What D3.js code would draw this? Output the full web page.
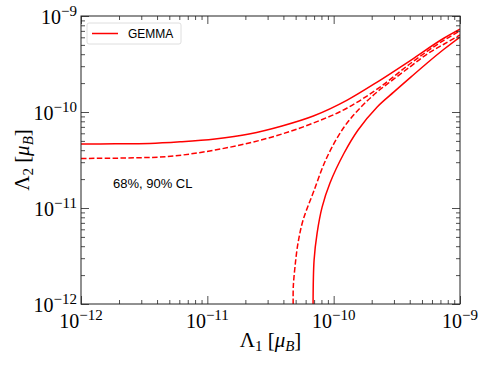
<!DOCTYPE html>
<html>
<head>
<meta charset="utf-8">
<script src="https://cdn.jsdelivr.net/npm/d3@7"></script>
<style>
  body { margin: 0; background: #fff; }
  text { font-family: "Liberation Serif", "DejaVu Serif", serif; fill: #000; }
</style>
</head>
<body>
<svg id="chart" width="488" height="366"></svg>
<script>
// axis ranges (log)
const xDomain = [1e-12, 1e-9];
const yDomain = [1e-12, 1e-9];
const decades = [1e-12, 1e-11, 1e-10, 1e-9];
const decadeLabels = ["\u221212", "\u221211", "\u221210", "\u22129"];

// 90% CL (solid), upper branch
const upper90x = [1e-12, 1.86e-12, 3.5e-12, 6.3e-12, 1.15e-11, 2.14e-11, 3.9e-11, 6.9e-11, 1.28e-10, 2.21e-10, 4.1e-10, 7.5e-10, 1e-9];
const upper90y = [4.64e-11, 4.66e-11, 4.7e-11, 4.9e-11, 5.24e-11, 5.9e-11, 7.15e-11, 9.08e-11, 1.33e-10, 2.05e-10, 3.48e-10, 5.9e-10, 7.3e-10];
// 68% CL (dashed), upper branch
const upper68x = [1e-12, 3.5e-12, 6.3e-12, 1.15e-11, 2.14e-11, 3.9e-11, 6.9e-11, 1.28e-10, 2.33e-10, 4.1e-10, 7.5e-10, 1e-9];
const upper68y = [3.28e-11, 3.36e-11, 3.56e-11, 4.02e-11, 4.75e-11, 5.9e-11, 7.67e-11, 1.10e-10, 1.82e-10, 3.24e-10, 5.62e-10, 6.98e-10];
// 90% CL (solid), lower branch
const lower90x = [6.87e-11, 7.0e-11, 7.4e-11, 8.1e-11, 9.35e-11, 1.21e-10, 1.56e-10, 2.21e-10, 3.0e-10, 4.1e-10, 5.5e-10, 7.5e-10, 1e-9];
const lower90y = [1e-12, 2.87e-12, 5.5e-12, 1.02e-11, 1.82e-11, 3.74e-11, 6.5e-11, 1.13e-10, 1.62e-10, 2.32e-10, 3.24e-10, 4.53e-10, 6.04e-10];
// 68% CL (dashed), lower branch
const lower68x = [4.78e-11, 4.79e-11, 4.94e-11, 5.22e-11, 5.73e-11, 6.87e-11, 8.87e-11, 1.21e-10, 1.65e-10, 2.21e-10, 3.0e-10, 4.1e-10, 5.5e-10, 7.5e-10, 1e-9];
const lower68y = [1e-12, 1.5e-12, 2.43e-12, 4.3e-12, 7.5e-12, 1.43e-11, 3.4e-11, 6.98e-11, 1.13e-10, 1.62e-10, 2.21e-10, 3.01e-10, 4.02e-10, 5.11e-10, 6.34e-10];

const svg = d3.select("#chart");
const pl = 81, pr = 460, pt = 16, pb = 304;

const x = d3.scaleLog().domain(xDomain).range([pl, pr]);
const y = d3.scaleLog().domain(yDomain).range([pb, pt]);

const isMajor = d => Math.abs(Math.log10(d) - Math.round(Math.log10(d))) < 1e-6;
const minorX = x.ticks().filter(d => !isMajor(d));
const minorY = y.ticks().filter(d => !isMajor(d));

svg.append("clipPath").attr("id", "clip")
  .append("rect").attr("x", pl).attr("y", pt)
  .attr("width", pr - pl).attr("height", pb - pt);

// curves
const smoothX = d3.line().x(d => x(d[0])).y(d => y(d[1])).curve(d3.curveMonotoneX);
const smooth = d3.line().x(d => x(d[0])).y(d => y(d[1])).curve(d3.curveCatmullRom.alpha(0.5));
const curves = [
  [upper90x, upper90y, null, smoothX],
  [lower90x, lower90y, null, smooth],
  [upper68x, upper68y, "5.5,2.4", smoothX],
  [lower68x, lower68y, "5.5,2.4", smooth]
];
const plot = svg.append("g").attr("clip-path", "url(#clip)");
curves.forEach(([xs, ys, dash, gen]) => {
  plot.append("path")
    .datum(xs.map((v, i) => [v, ys[i]]))
    .attr("d", gen)
    .attr("fill", "none")
    .attr("stroke", "#ff0000")
    .attr("stroke-width", 1.5)
    .attr("stroke-dasharray", dash);
});

// ticks, inward on all four sides
const addAxis = (axis, tx, ty) => {
  const g = svg.append("g").attr("transform", `translate(${tx},${ty})`).call(axis);
  g.select(".domain").remove();
  g.selectAll("line").attr("stroke", "#222").attr("stroke-width", 0.8);
  g.selectAll("text").remove();
};
const sides = [
  [() => d3.axisBottom(x), 0, pb, minorX],
  [() => d3.axisTop(x), 0, pt, minorX],
  [() => d3.axisLeft(y), pl, 0, minorY],
  [() => d3.axisRight(y), pr, 0, minorY]
];
sides.forEach(([mk, tx, ty, minor]) => {
  addAxis(mk().tickValues(decades).tickSize(-8).tickFormat(""), tx, ty);
  addAxis(mk().tickValues(minor).tickSize(-4).tickFormat(""), tx, ty);
});

// frame
svg.append("rect")
  .attr("x", pl).attr("y", pt)
  .attr("width", pr - pl).attr("height", pb - pt)
  .attr("fill", "none").attr("stroke", "#222").attr("stroke-width", 1);

// tick labels
decades.forEach((d, i) => {
  const t = svg.append("text")
    .attr("x", x(d)).attr("y", 328)
    .attr("text-anchor", "middle")
    .attr("font-size", 20);
  t.append("tspan").text("10");
  t.append("tspan").attr("dy", -8).attr("font-size", 15).text(decadeLabels[i]);

  const u = svg.append("text")
    .attr("x", pl - 4).attr("y", y(d) + 8)
    .attr("text-anchor", "end")
    .attr("font-size", 20);
  u.append("tspan").text("10");
  u.append("tspan").attr("dy", -8).attr("font-size", 15).text(decadeLabels[i]);
});

// axis titles
const axisTitle = (sel, sub) => {
  sel.attr("font-size", 21).attr("text-anchor", "middle");
  sel.append("tspan").text("\u039B");
  sel.append("tspan").attr("font-size", 15).attr("dy", 4).text(sub);
  sel.append("tspan").attr("dy", -4).text(" [");
  sel.append("tspan").attr("font-style", "italic").text("\u03BC");
  sel.append("tspan").attr("font-style", "italic").attr("font-size", 15).attr("dy", 4).text("B");
  sel.append("tspan").attr("dy", -4).text("]");
};
axisTitle(svg.append("text").attr("x", (pl + pr) / 2).attr("y", 347), "1");
axisTitle(svg.append("text").attr("transform", `translate(29,${(pt + pb) / 2}) rotate(-90)`), "2");

// legend
const leg = svg.append("g");
leg.append("rect")
  .attr("x", 87).attr("y", 23).attr("width", 94).attr("height", 21).attr("rx", 2)
  .attr("fill", "#fff").attr("stroke", "#d6d6d6").attr("stroke-width", 0.8);
leg.append("line")
  .attr("x1", 92).attr("x2", 118).attr("y1", 33.5).attr("y2", 33.5)
  .attr("stroke", "#ff0000").attr("stroke-width", 1.5);
leg.append("text")
  .attr("x", 128).attr("y", 38)
  .style("font-family", "'Liberation Sans', Arial, sans-serif")
  .attr("font-size", 12).text("GEMMA");

svg.append("text")
  .attr("x", 113).attr("y", 188)
  .style("font-family", "'Liberation Sans', Arial, sans-serif")
  .attr("font-size", 13).text("68%, 90% CL");
</script>
</body>
</html>
